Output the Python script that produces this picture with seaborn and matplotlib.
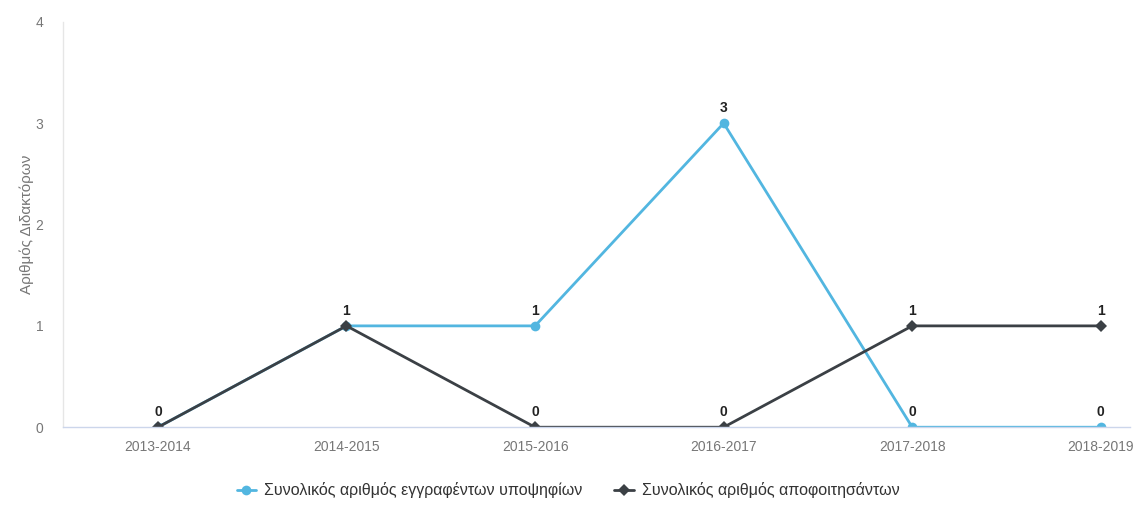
import matplotlib
matplotlib.use("Agg")
import matplotlib.pyplot as plt
from matplotlib.lines import Line2D
import pandas as pd
import seaborn as sns

years = ["2013-2014", "2014-2015", "2015-2016", "2016-2017", "2017-2018", "2018-2019"]
registered = [0, 1, 1, 3, 0, 0]
graduated = [0, 1, 0, 0, 1, 1]

label_reg = "Συνολικός αριθμός εγγραφέντων υποψηφίων"
label_grad = "Συνολικός αριθμός αποφοιτησάντων"

BLUE = "#52b6e0"
DARK = "#3b4045"
GREY = "#777777"

sns.set_theme(style="white")
plt.rcParams["font.family"] = ["Liberation Sans", "DejaVu Sans"]

df = pd.DataFrame({
    "year": years * 2,
    "value": registered + graduated,
    "series": [label_reg] * len(years) + [label_grad] * len(years),
})

fig = plt.figure(figsize=(11.43, 5.08), dpi=100)
ax = fig.add_axes([0.055, 0.159, 0.934, 0.798])

sns.lineplot(data=df[df["series"] == label_reg], x="year", y="value", color=BLUE,
             marker="o", markersize=7, markeredgewidth=0, linewidth=2, ax=ax)
sns.lineplot(data=df[df["series"] == label_grad], x="year", y="value", color=DARK,
             marker="D", markersize=6, markeredgewidth=0, linewidth=2, ax=ax)

# одна подпись на точку, совпадающие не дублируем
seen = set()
for vals in (registered, graduated):
    for i, v in enumerate(vals):
        if (i, v) in seen:
            continue
        seen.add((i, v))
        ax.annotate(str(v), (i, v), xytext=(0, 6), textcoords="offset points",
                    ha="center", va="bottom", fontsize=10, fontweight="bold", color="#222222")

ax.set_xlim(-0.504, 5.157)
ax.set_ylim(0, 4)
ax.set_yticks([0, 1, 2, 3, 4])
ax.set_xlabel("")
ax.set_ylabel("Αριθμός Διδακτόρων", color=GREY, fontsize=11)
ax.yaxis.set_label_coords(-0.027, 0.5)
ax.tick_params(axis="both", colors=GREY, labelsize=10, length=0)
ax.tick_params(axis="x", pad=9)
ax.tick_params(axis="y", pad=14)

for side in ["top", "right"]:
    ax.spines[side].set_visible(False)
ax.spines["left"].set_color("#e6e6e6")
ax.spines["bottom"].set_color("#ccd6eb")
ax.spines["left"].set_linewidth(1)
ax.spines["bottom"].set_linewidth(1)

handles = [
    Line2D([], [], color=BLUE, marker="o", markersize=7, linewidth=2, markeredgewidth=0),
    Line2D([], [], color=DARK, marker="D", markersize=6, linewidth=2, markeredgewidth=0),
]
fig.legend(handles, [label_reg, label_grad], loc="center", bbox_to_anchor=(0.497, 0.035),
           ncol=2, frameon=False, fontsize=11.5, handlelength=1.2, handletextpad=0.5,
           columnspacing=2, labelcolor="#333333")

fig.savefig("out.png", dpi=100)
